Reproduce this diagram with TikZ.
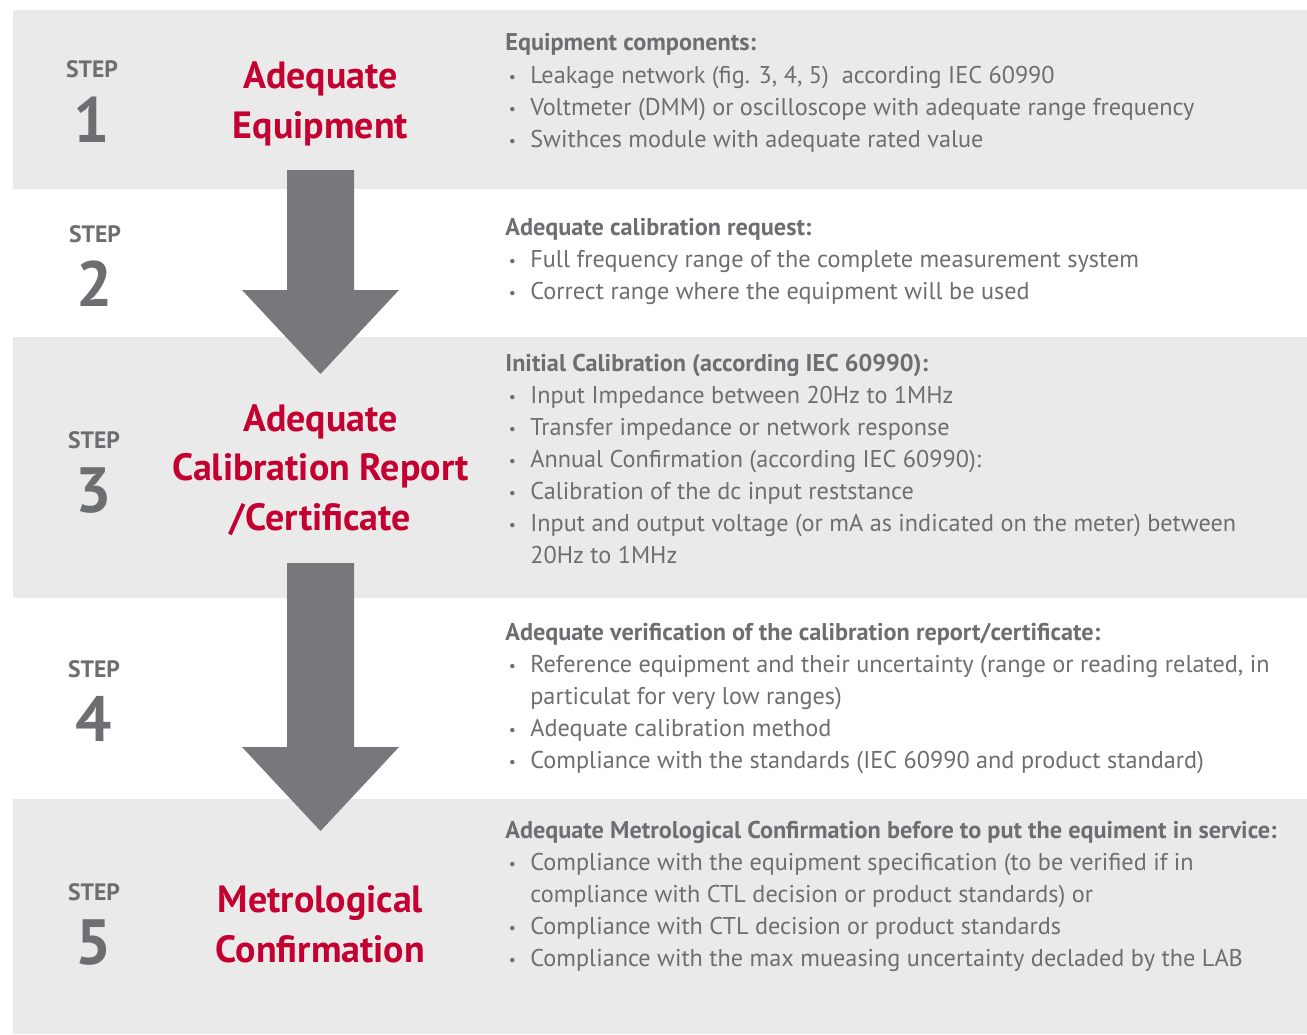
\documentclass[tikz,border=0pt]{standalone}
\usepackage{fontspec}
\setmainfont{PT Sans}

\definecolor{bandgrey}{RGB}{234,234,234}
\definecolor{arrowgrey}{RGB}{119,120,124}
\definecolor{textgrey}{RGB}{109,110,113}
\definecolor{titlered}{RGB}{196,0,48}

\newcommand{\bul}{\llap{\makebox[20.4pt]{\raisebox{0.5pt}{\fontsize{9}{9}\selectfont\textbullet}}}}

\begin{document}
\begin{tikzpicture}[x=0.02cm,y=-0.02cm,
    steplbl/.style={font=\bfseries\fontsize{13.5}{16}\selectfont,text=textgrey,anchor=base,inner sep=0},
    stepnum/.style={font=\bfseries\fontsize{36.4}{40}\selectfont,text=textgrey,anchor=base,inner sep=0},
    steptitle/.style={font=\bfseries\fontsize{21.6}{28.1}\selectfont,text=titlered,align=center,anchor=base,inner sep=0},
    listhead/.style={font=\bfseries\fontsize{13.8}{18.14}\selectfont,text=textgrey,anchor=base west,inner sep=0},
    listbody/.style={font=\fontsize{13.8}{18.14}\selectfont,text=textgrey,align=left,anchor=base west,inner sep=0}]
   \fill[white] (0,0) rectangle (1307,1034);
   % grey bands
   \fill[bandgrey] (13,10) rectangle (1307,189);
   \fill[bandgrey] (13,337) rectangle (1307,598);
   \fill[bandgrey] (13,799) rectangle (1307,1034);
   % block arrows
   \fill[arrowgrey] (287,170) -- (354,170) -- (354,290) -- (399,290) -- (320.5,374)
    -- (242,290) -- (287,290) -- cycle;
   \fill[arrowgrey] (287,563) -- (354,563) -- (354,747) -- (399,747) -- (320.5,831)
    -- (242,747) -- (287,747) -- cycle;
   % step numbers
   \foreach \n/\x/\y in {1/92/78,2/95/242,3/94/448,4/94/677,5/94/900} {
    \node[steplbl] (step\n) at (\x,\y) {STEP};
    \node[stepnum] (num\n) at (\x,{\y+64.5}) {\n};
   }
   % titles (anchored on the last line)
   \node[steptitle] (title1) at (320.5,138) {Adequate\\Equipment};
   \node[steptitle] (title3) at (320.5,530) {Adequate\\Calibration Report\\/Certificate};
   \node[steptitle] (title5) at (320.5,962) {Metrological\\Confirmation};
   % step 1
   \node[listhead] (head1) at (505,51) {Equipment components:};
   \node[listbody] (list1) at (530,147) {\bul Leakage network (fig. 3, 4, 5)\ \ according IEC 60990\\
    \bul Voltmeter (DMM) or oscilloscope with adequate range frequency\\
    \bul Swithces module with adequate rated value};
   % step 2
   \node[listhead] (head2) at (505,235) {Adequate calibration request:};
   \node[listbody] (list2) at (530,299) {\bul Full frequency range of the complete measurement system\\
    \bul Correct range where the equipment will be used};
   % step 3
   \node[listhead] (head3) at (505,371) {Initial Calibration (according IEC 60990):};
   \node[listbody] (list3) at (530,563) {\bul Input Impedance between 20Hz to 1MHz\\
    \bul Transfer impedance or network response\\
    \bul Annual Confirmation (according IEC 60990):\\
    \bul Calibration of the dc input reststance\\
    \bul Input and output voltage (or mA as indicated on the meter) between\\
    20Hz to 1MHz};
   % step 4
   \node[listhead] (head4) at (505,640) {Adequate verification of the calibration report/certificate:};
   \node[listbody] (list4) at (530,768) {\bul Reference equipment and their uncertainty (range or reading related, in\\
    particulat for very low ranges)\\
    \bul Adequate calibration method\\
    \bul Compliance with the standards (IEC 60990 and product standard)};
   % step 5
   \node[listhead] (head5) at (505,838) {Adequate Metrological Confirmation before to put the equiment in service:};
   \node[listbody] (list5) at (530,966) {\bul Compliance with the equipment specification (to be verified if in\\
    compliance with CTL decision or product standards) or\\
    \bul Compliance with CTL decision or product standards\\
    \bul Compliance with the max mueasing uncertainty decladed by the LAB};
  \end{tikzpicture}
\end{document}
